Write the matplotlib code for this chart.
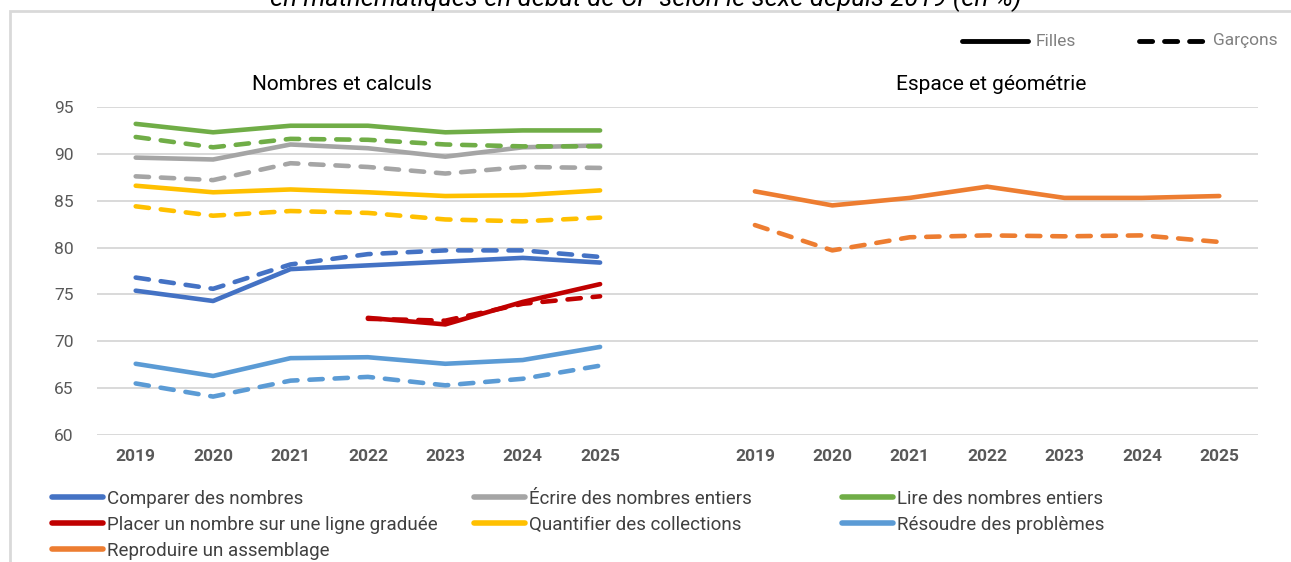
import matplotlib
matplotlib.use("Agg")
import matplotlib.pyplot as plt
from matplotlib.lines import Line2D
from matplotlib.patches import Rectangle
import numpy as np

plt.rcParams['font.family'] = ['Roboto', 'DejaVu Sans']

years = ["2019", "2020", "2021", "2022", "2023", "2024", "2025"]
groups = ["Nombres et calculs", "Espace et géométrie"]
sexes = ["Filles", "Garçons"]

# Nombres et calculs (group 0)
comparer_f = [75.4, 74.3, 77.7, 78.1, 78.5, 78.9, 78.4]
comparer_g = [76.8, 75.6, 78.2, 79.3, 79.7, 79.7, 79.0]
ecrire_f = [89.6, 89.4, 91.0, 90.6, 89.7, 90.7, 90.9]
ecrire_g = [87.6, 87.2, 89.0, 88.6, 87.9, 88.6, 88.5]
lire_f = [93.2, 92.3, 93.0, 93.0, 92.3, 92.5, 92.5]
lire_g = [91.8, 90.7, 91.6, 91.5, 91.0, 90.8, 90.8]
placer_f = [None, None, None, 72.5, 71.8, 74.2, 76.1]
placer_g = [None, None, None, 72.4, 72.2, 74.0, 74.8]
quantifier_f = [86.6, 85.9, 86.2, 85.9, 85.5, 85.6, 86.1]
quantifier_g = [84.4, 83.4, 83.9, 83.7, 83.0, 82.8, 83.2]
resoudre_f = [67.6, 66.3, 68.2, 68.3, 67.6, 68.0, 69.4]
resoudre_g = [65.5, 64.1, 65.8, 66.2, 65.3, 66.0, 67.4]
# Espace et géométrie (group 1)
reproduire_f = [86.0, 84.5, 85.3, 86.5, 85.3, 85.3, 85.5]
reproduire_g = [82.4, 79.7, 81.1, 81.3, 81.2, 81.3, 80.6]

series = [
    ("Comparer des nombres", "#4472C4", 0, comparer_f, comparer_g),
    ("Écrire des nombres entiers", "#A5A5A5", 0, ecrire_f, ecrire_g),
    ("Lire des nombres entiers", "#70AD47", 0, lire_f, lire_g),
    ("Placer un nombre sur une ligne graduée", "#C00000", 0, placer_f, placer_g),
    ("Quantifier des collections", "#FFC000", 0, quantifier_f, quantifier_g),
    ("Résoudre des problèmes", "#5B9BD5", 0, resoudre_f, resoudre_g),
    ("Reproduire un assemblage", "#ED7D31", 1, reproduire_f, reproduire_g),
]

W, H = 1291, 562
fig = plt.figure(figsize=(W / 100, H / 100), dpi=100)

def fx(px):
    return px / W

def fy(py):
    return 1 - py / H

ax = fig.add_axes([fx(97), fy(435), fx(1258) - fx(97), fy(107) - fy(435)])

n = len(years)
pos = np.arange(n)
offsets = [0, n + 1]

for name, color, g, vf, vg in series:
    x = pos + offsets[g]
    yf = np.array([np.nan if v is None else v for v in vf], dtype=float)
    yg = np.array([np.nan if v is None else v for v in vg], dtype=float)
    ax.plot(x, yf, color=color, lw=3.3, solid_capstyle='round', solid_joinstyle='round', zorder=3)
    ax.plot(x, yg, color=color, lw=3.3, linestyle=(0, (2.9, 2.6)),
            dash_capstyle='round', dash_joinstyle='round', zorder=3)

ax.set_xlim(-0.5, 2 * n + 0.5)
ax.set_ylim(60, 95)
ax.set_yticks(np.arange(60, 96, 5))
ax.yaxis.grid(True, color="#D9D9D9", lw=1.4)
ax.set_axisbelow(True)
for s in ax.spines.values():
    s.set_visible(False)

xt = np.concatenate([pos + offsets[0], pos + offsets[1]])
ax.set_xticks(xt)
ax.set_xticklabels(years + years, fontweight='bold', fontsize=12.5, color="#595959")
ax.tick_params(axis='x', length=0, pad=10)
ax.tick_params(axis='y', length=0, pad=17, labelsize=12.5, labelcolor="#595959")

# group titles
title_x = [2.67, 11.05]
for gname, tx in zip(groups, title_x):
    ax.text(tx, 97.35, gname, ha='center', va='center', fontsize=15,
            color="#000000", clip_on=False)

# frame
fig.add_artist(Rectangle((fx(10), fy(700)), fx(1400), fy(11) - fy(700),
                         transform=fig.transFigure, fill=False,
                         edgecolor="#D9D9D9", lw=2))

# cut-off title at top
fig.text(0.5, fy(6), "en mathématiques en début de CP selon le sexe depuis 2019 (en %)",
         ha='center', va='baseline', fontsize=18.5, style='italic', color="#000000")

# Filles / Garçons legend
sex_styles = ['-', (0, (2.7, 2.45))]
sex_x = [(960, 1030, 1036), (1137, 1205, 1213)]
for label, ls, (x0, x1, tx) in zip(sexes, sex_styles, sex_x):
    fig.add_artist(Line2D([fx(x0 + 2), fx(x1 - 2)], [fy(41), fy(41)], transform=fig.transFigure,
                          color='black', lw=3.5, linestyle=ls,
                          solid_capstyle='round', dash_capstyle='round'))
    fig.text(fx(tx), fy(41), label, ha='left', va='center', fontsize=12.5, color="#808080")

# bottom legend
col_x = [50, 472, 840]
row_y = [497, 523, 549]
for i, (name, color, g, vf, vg) in enumerate(series):
    c = i % 3
    r = i // 3
    x0 = col_x[c]
    y0 = row_y[r]
    fig.add_artist(Line2D([fx(x0 + 2), fx(x0 + 53)], [fy(y0), fy(y0)], transform=fig.transFigure,
                          color=color, lw=4, solid_capstyle='round'))
    fig.text(fx(x0 + 57), fy(y0 + 1.5), name, ha='left', va='center', fontsize=13.5, color="#404040")

fig.savefig("out.png", dpi=100)
